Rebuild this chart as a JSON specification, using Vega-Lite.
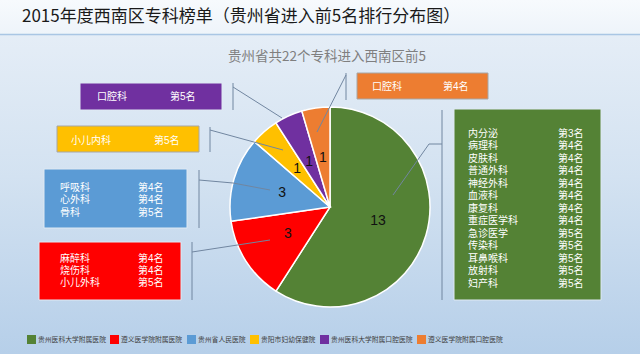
{
  "$schema": "https://vega.github.io/schema/vega-lite/v6.json",
  "width": 640,
  "height": 354,
  "padding": 0,
  "autosize": {"type": "none"},
  "config": {
    "view": {"stroke": null},
    "text": {"font": "Noto Sans CJK SC"},
    "legend": {
      "orient": "none",
      "legendX": 27,
      "legendY": 335,
      "direction": "horizontal",
      "symbolType": "square",
      "symbolSize": 81,
      "symbolStrokeWidth": 0,
      "symbolOpacity": 1,
      "labelFont": "Noto Sans CJK SC",
      "labelFontSize": 6.8,
      "labelColor": "#404040",
      "labelOffset": 2,
      "columnPadding": 4,
      "padding": 0,
      "title": null
    }
  },
  "data": {
    "values": [
      {"order": 1, "hospital": "贵州医科大学附属医院", "count": 13,
       "depts": ["内分泌", "病理科", "皮肤科", "普通外科", "神经外科", "血液科", "康复科", "重症医学科", "急诊医学", "传染科", "耳鼻喉科", "放射科", "妇产科"],
       "ranks": ["第3名", "第4名", "第4名", "第4名", "第4名", "第4名", "第4名", "第4名", "第5名", "第5名", "第5名", "第5名", "第5名"]},
      {"order": 2, "hospital": "遵义医学院附属医院", "count": 3,
       "depts": ["麻醉科", "烧伤科", "小儿外科"], "ranks": ["第4名", "第4名", "第5名"]},
      {"order": 3, "hospital": "贵州省人民医院", "count": 3,
       "depts": ["呼吸科", "心外科", "骨科"], "ranks": ["第4名", "第4名", "第5名"]},
      {"order": 4, "hospital": "贵阳市妇幼保健院", "count": 1,
       "depts": ["小儿内科"], "ranks": ["第5名"]},
      {"order": 5, "hospital": "贵州医科大学附属口腔医院", "count": 1,
       "depts": ["口腔科"], "ranks": ["第5名"]},
      {"order": 6, "hospital": "遵义医学院附属口腔医院", "count": 1,
       "depts": ["口腔科"], "ranks": ["第4名"]}
    ]
  },
  "layer": [
    {
      "data": {"values": [{}]},
      "mark": {"type": "rect", "color": {"gradient": "linear", "x1": 0, "y1": 0, "x2": 0, "y2": 1,
        "stops": [{"offset": 0, "color": "#e9f0f8"}, {"offset": 0.5, "color": "#d3e2f1"}, {"offset": 1, "color": "#b6cfe9"}]}},
      "encoding": {
        "x": {"datum": 0, "type": "quantitative", "scale": {"domain": [0, 640], "nice": false, "zero": false}, "axis": null},
        "x2": {"datum": 640},
        "y": {"datum": 0, "type": "quantitative", "scale": {"domain": [0, 354], "nice": false, "zero": false, "reverse": true}, "axis": null},
        "y2": {"datum": 354}
      }
    },
    {
      "data": {"values": [{}]},
      "mark": {"type": "rect", "color": {"gradient": "linear", "x1": 0, "y1": 0, "x2": 0, "y2": 1,
        "stops": [{"offset": 0, "color": "#f7fafd"}, {"offset": 1, "color": "#eef4fa"}]}},
      "encoding": {
        "x": {"datum": 0, "type": "quantitative"}, "x2": {"datum": 640},
        "y": {"datum": 0, "type": "quantitative"}, "y2": {"datum": 34}
      }
    },
    {
      "data": {"values": [{}]},
      "mark": {"type": "rule", "color": "#a9c6e4", "strokeWidth": 1.5},
      "encoding": {
        "x": {"datum": 0, "type": "quantitative"}, "x2": {"datum": 640},
        "y": {"datum": 34.5, "type": "quantitative"}, "y2": {"datum": 34.5}
      }
    },
    {
      "data": {"values": [{}]},
      "mark": {"type": "text", "text": "2015年度西南区专科榜单（贵州省进入前5名排行分布图）", "align": "left", "baseline": "middle", "fontSize": 17, "color": "#1a1a1a"},
      "encoding": {"x": {"datum": 22, "type": "quantitative"}, "y": {"datum": 17, "type": "quantitative"}}
    },
    {
      "data": {"values": [{}]},
      "mark": {"type": "text", "text": "贵州省共22个专科进入西南区前5", "align": "center", "baseline": "middle", "fontSize": 13.5, "color": "#7f7f7f"},
      "encoding": {"x": {"datum": 327, "type": "quantitative"}, "y": {"datum": 57, "type": "quantitative"}}
    },
    {
      "encoding": {
        "theta": {"field": "count", "type": "quantitative", "stack": true},
        "order": {"field": "order", "type": "quantitative", "sort": "ascending"},
        "color": {
          "field": "hospital", "type": "nominal",
          "scale": {
            "domain": ["贵州医科大学附属医院", "遵义医学院附属医院", "贵州省人民医院", "贵阳市妇幼保健院", "贵州医科大学附属口腔医院", "遵义医学院附属口腔医院"],
            "range": ["#548235", "#ff0000", "#5b9bd5", "#ffc000", "#7030a0", "#ed7d31"]
          },
          "legend": {}
        },
        "x": {"datum": 330, "type": "quantitative"},
        "y": {"datum": 207, "type": "quantitative"}
      },
      "layer": [
        {"mark": {"type": "arc", "outerRadius": 100, "stroke": "white", "strokeWidth": 1.5}}
      ]
    },
    {"data": {"values": [{}]}, "mark": {"type": "rule", "color": "#7186a0", "strokeWidth": 1},
     "encoding": {"x": {"datum": 233, "type": "quantitative"}, "x2": {"datum": 233}, "y": {"datum": 83, "type": "quantitative"}, "y2": {"datum": 110}}},
    {"data": {"values": [{}]}, "mark": {"type": "rule", "color": "#7186a0", "strokeWidth": 1},
     "encoding": {"x": {"datum": 233, "type": "quantitative"}, "x2": {"datum": 282}, "y": {"datum": 87, "type": "quantitative"}, "y2": {"datum": 118}}},
    {"data": {"values": [{}]}, "mark": {"type": "rule", "color": "#7186a0", "strokeWidth": 1},
     "encoding": {"x": {"datum": 210, "type": "quantitative"}, "x2": {"datum": 210}, "y": {"datum": 127, "type": "quantitative"}, "y2": {"datum": 152}}},
    {"data": {"values": [{}]}, "mark": {"type": "rule", "color": "#7186a0", "strokeWidth": 1},
     "encoding": {"x": {"datum": 210, "type": "quantitative"}, "x2": {"datum": 283}, "y": {"datum": 130, "type": "quantitative"}, "y2": {"datum": 150}}},
    {"data": {"values": [{}]}, "mark": {"type": "rule", "color": "#7186a0", "strokeWidth": 1},
     "encoding": {"x": {"datum": 199, "type": "quantitative"}, "x2": {"datum": 199}, "y": {"datum": 170, "type": "quantitative"}, "y2": {"datum": 228}}},
    {"data": {"values": [{}]}, "mark": {"type": "rule", "color": "#7186a0", "strokeWidth": 1},
     "encoding": {"x": {"datum": 199, "type": "quantitative"}, "x2": {"datum": 233}, "y": {"datum": 180, "type": "quantitative"}, "y2": {"datum": 183}}},
    {"data": {"values": [{}]}, "mark": {"type": "rule", "color": "#7186a0", "strokeWidth": 1},
     "encoding": {"x": {"datum": 233, "type": "quantitative"}, "x2": {"datum": 270}, "y": {"datum": 183, "type": "quantitative"}, "y2": {"datum": 190}}},
    {"data": {"values": [{}]}, "mark": {"type": "rule", "color": "#7186a0", "strokeWidth": 1},
     "encoding": {"x": {"datum": 192, "type": "quantitative"}, "x2": {"datum": 192}, "y": {"datum": 242, "type": "quantitative"}, "y2": {"datum": 300}}},
    {"data": {"values": [{}]}, "mark": {"type": "rule", "color": "#7186a0", "strokeWidth": 1},
     "encoding": {"x": {"datum": 192, "type": "quantitative"}, "x2": {"datum": 270}, "y": {"datum": 252, "type": "quantitative"}, "y2": {"datum": 240}}},
    {"data": {"values": [{}]}, "mark": {"type": "rule", "color": "#7186a0", "strokeWidth": 1},
     "encoding": {"x": {"datum": 346, "type": "quantitative"}, "x2": {"datum": 346}, "y": {"datum": 73, "type": "quantitative"}, "y2": {"datum": 100}}},
    {"data": {"values": [{}]}, "mark": {"type": "rule", "color": "#7186a0", "strokeWidth": 1},
     "encoding": {"x": {"datum": 346, "type": "quantitative"}, "x2": {"datum": 317}, "y": {"datum": 75, "type": "quantitative"}, "y2": {"datum": 132}}},
    {"data": {"values": [{}]}, "mark": {"type": "rule", "color": "#7186a0", "strokeWidth": 1},
     "encoding": {"x": {"datum": 442, "type": "quantitative"}, "x2": {"datum": 442}, "y": {"datum": 110, "type": "quantitative"}, "y2": {"datum": 300}}},
    {"data": {"values": [{}]}, "mark": {"type": "rule", "color": "#7186a0", "strokeWidth": 1},
     "encoding": {"x": {"datum": 442, "type": "quantitative"}, "x2": {"datum": 429}, "y": {"datum": 144, "type": "quantitative"}, "y2": {"datum": 144}}},
    {"data": {"values": [{}]}, "mark": {"type": "rule", "color": "#7186a0", "strokeWidth": 1},
     "encoding": {"x": {"datum": 429, "type": "quantitative"}, "x2": {"datum": 393}, "y": {"datum": 144, "type": "quantitative"}, "y2": {"datum": 195}}},
    {
      "mark": {"type": "text", "radius": 50, "fontSize": 14, "color": "#111111", "font": "Liberation Sans"},
      "encoding": {
        "theta": {"field": "count", "type": "quantitative", "stack": true},
        "order": {"field": "order", "type": "quantitative", "sort": "ascending"},
        "text": {"field": "count", "type": "quantitative"},
        "x": {"datum": 330, "type": "quantitative"},
        "y": {"datum": 207, "type": "quantitative"}
      }
    },
    {
      "transform": [{"filter": "datum.order == 1"}],
      "layer": [
        {"mark": {"type": "rect", "stroke": "#dfe9f3", "strokeWidth": 1},
         "encoding": {"color": {"field": "hospital", "type": "nominal"}, "x": {"datum": 454, "type": "quantitative"}, "x2": {"datum": 601}, "y": {"datum": 109, "type": "quantitative"}, "y2": {"datum": 300}}},
        {"mark": {"type": "text", "align": "left", "baseline": "top", "lineHeight": 12.5, "fontSize": 10, "color": "white", "font": "Liberation Sans, Noto Sans CJK SC"},
         "encoding": {"text": {"field": "depts", "type": "nominal"}, "x": {"datum": 468, "type": "quantitative"}, "y": {"datum": 128.5, "type": "quantitative"}}},
        {"mark": {"type": "text", "align": "left", "baseline": "top", "lineHeight": 12.5, "fontSize": 10, "color": "white", "font": "Liberation Sans, Noto Sans CJK SC"},
         "encoding": {"text": {"field": "ranks", "type": "nominal"}, "x": {"datum": 558, "type": "quantitative"}, "y": {"datum": 128.5, "type": "quantitative"}}}
      ]
    },
    {
      "transform": [{"filter": "datum.order == 2"}],
      "layer": [
        {"mark": {"type": "rect", "stroke": "#dfe9f3", "strokeWidth": 1},
         "encoding": {"color": {"field": "hospital", "type": "nominal"}, "x": {"datum": 39, "type": "quantitative"}, "x2": {"datum": 181}, "y": {"datum": 242, "type": "quantitative"}, "y2": {"datum": 300}}},
        {"mark": {"type": "text", "align": "left", "baseline": "top", "lineHeight": 12.2, "fontSize": 10, "color": "white", "font": "Liberation Sans, Noto Sans CJK SC"},
         "encoding": {"text": {"field": "depts", "type": "nominal"}, "x": {"datum": 60, "type": "quantitative"}, "y": {"datum": 253.5, "type": "quantitative"}}},
        {"mark": {"type": "text", "align": "left", "baseline": "top", "lineHeight": 12.2, "fontSize": 10, "color": "white", "font": "Liberation Sans, Noto Sans CJK SC"},
         "encoding": {"text": {"field": "ranks", "type": "nominal"}, "x": {"datum": 138, "type": "quantitative"}, "y": {"datum": 253.5, "type": "quantitative"}}}
      ]
    },
    {
      "transform": [{"filter": "datum.order == 3"}],
      "layer": [
        {"mark": {"type": "rect", "stroke": "#dfe9f3", "strokeWidth": 1},
         "encoding": {"color": {"field": "hospital", "type": "nominal"}, "x": {"datum": 44, "type": "quantitative"}, "x2": {"datum": 187}, "y": {"datum": 169, "type": "quantitative"}, "y2": {"datum": 228}}},
        {"mark": {"type": "text", "align": "left", "baseline": "top", "lineHeight": 12.5, "fontSize": 10, "color": "white", "font": "Liberation Sans, Noto Sans CJK SC"},
         "encoding": {"text": {"field": "depts", "type": "nominal"}, "x": {"datum": 60, "type": "quantitative"}, "y": {"datum": 182.5, "type": "quantitative"}}},
        {"mark": {"type": "text", "align": "left", "baseline": "top", "lineHeight": 12.5, "fontSize": 10, "color": "white", "font": "Liberation Sans, Noto Sans CJK SC"},
         "encoding": {"text": {"field": "ranks", "type": "nominal"}, "x": {"datum": 138, "type": "quantitative"}, "y": {"datum": 182.5, "type": "quantitative"}}}
      ]
    },
    {
      "transform": [{"filter": "datum.order == 4"}],
      "layer": [
        {"mark": {"type": "rect", "stroke": "#a6a6a6", "strokeWidth": 1},
         "encoding": {"color": {"field": "hospital", "type": "nominal"}, "x": {"datum": 57, "type": "quantitative"}, "x2": {"datum": 199}, "y": {"datum": 126, "type": "quantitative"}, "y2": {"datum": 152}}},
        {"mark": {"type": "text", "align": "left", "baseline": "top", "fontSize": 10, "color": "white", "font": "Liberation Sans, Noto Sans CJK SC"},
         "encoding": {"text": {"field": "depts", "type": "nominal"}, "x": {"datum": 71, "type": "quantitative"}, "y": {"datum": 135.5, "type": "quantitative"}}},
        {"mark": {"type": "text", "align": "left", "baseline": "top", "fontSize": 10, "color": "white", "font": "Liberation Sans, Noto Sans CJK SC"},
         "encoding": {"text": {"field": "ranks", "type": "nominal"}, "x": {"datum": 154, "type": "quantitative"}, "y": {"datum": 135.5, "type": "quantitative"}}}
      ]
    },
    {
      "transform": [{"filter": "datum.order == 5"}],
      "layer": [
        {"mark": {"type": "rect", "stroke": "#dfe9f3", "strokeWidth": 1},
         "encoding": {"color": {"field": "hospital", "type": "nominal"}, "x": {"datum": 80, "type": "quantitative"}, "x2": {"datum": 222}, "y": {"datum": 83, "type": "quantitative"}, "y2": {"datum": 110}}},
        {"mark": {"type": "text", "align": "left", "baseline": "top", "fontSize": 10, "color": "white", "font": "Liberation Sans, Noto Sans CJK SC"},
         "encoding": {"text": {"field": "depts", "type": "nominal"}, "x": {"datum": 97, "type": "quantitative"}, "y": {"datum": 92, "type": "quantitative"}}},
        {"mark": {"type": "text", "align": "left", "baseline": "top", "fontSize": 10, "color": "white", "font": "Liberation Sans, Noto Sans CJK SC"},
         "encoding": {"text": {"field": "ranks", "type": "nominal"}, "x": {"datum": 170, "type": "quantitative"}, "y": {"datum": 92, "type": "quantitative"}}}
      ]
    },
    {
      "transform": [{"filter": "datum.order == 6"}],
      "layer": [
        {"mark": {"type": "rect", "stroke": "#a6a6a6", "strokeWidth": 1},
         "encoding": {"color": {"field": "hospital", "type": "nominal"}, "x": {"datum": 357, "type": "quantitative"}, "x2": {"datum": 488}, "y": {"datum": 73, "type": "quantitative"}, "y2": {"datum": 99}}},
        {"mark": {"type": "text", "align": "left", "baseline": "top", "fontSize": 10, "color": "white", "font": "Liberation Sans, Noto Sans CJK SC"},
         "encoding": {"text": {"field": "depts", "type": "nominal"}, "x": {"datum": 372, "type": "quantitative"}, "y": {"datum": 82, "type": "quantitative"}}},
        {"mark": {"type": "text", "align": "left", "baseline": "top", "fontSize": 10, "color": "white", "font": "Liberation Sans, Noto Sans CJK SC"},
         "encoding": {"text": {"field": "ranks", "type": "nominal"}, "x": {"datum": 443, "type": "quantitative"}, "y": {"datum": 82, "type": "quantitative"}}}
      ]
    }
  ]
}
